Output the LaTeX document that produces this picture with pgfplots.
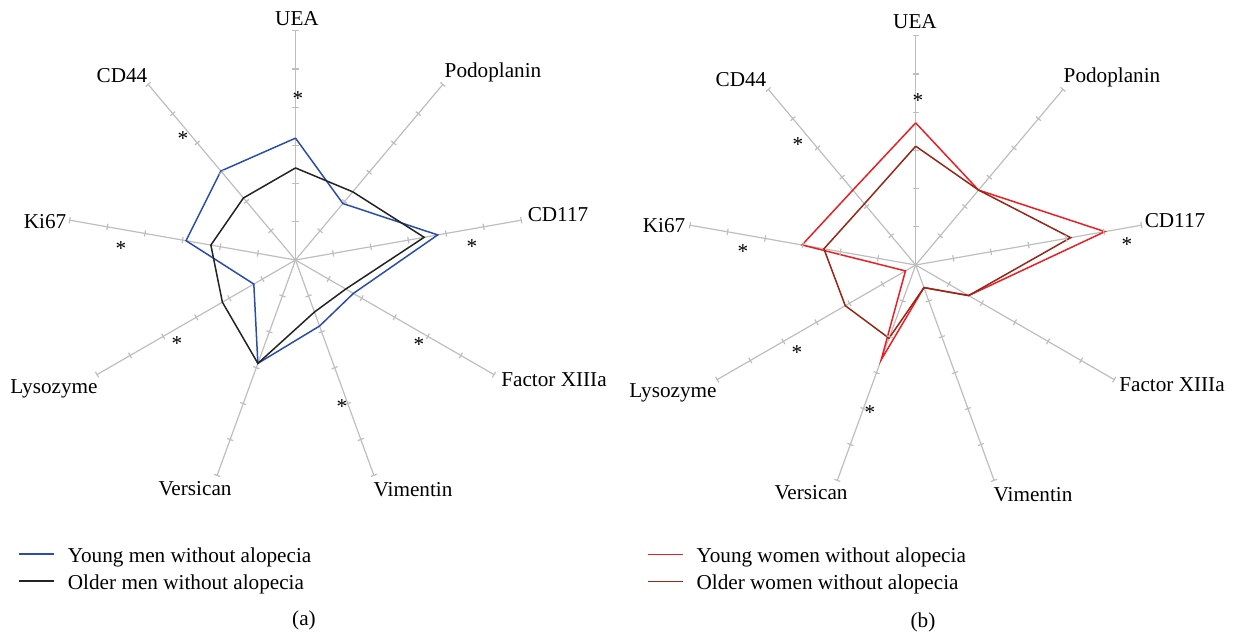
\documentclass[border=0pt]{standalone}
\usepackage{pgfplots}
\pgfplotsset{compat=1.18}
\usepackage{fontspec}
\setmainfont{Liberation Serif}
\definecolor{ablue}{RGB}{42,78,168}
\definecolor{ablack}{RGB}{35,35,35}
\definecolor{bred}{RGB}{236,30,36}
\definecolor{bbrown}{RGB}{150,38,22}
\definecolor{spoke}{RGB}{190,190,190}
\pgfplotsset{
  radar/.style={anchor=center, x=19.1pt, y=19.1pt,
    xmin=-6, xmax=6, ymin=-6, ymax=6, hide axis, clip=false,
    data cs=polar,
    legend cell align=left,
    legend image code/.code={\draw[##1] (0pt,1.6pt) -- (17.5pt,1.6pt);},
  },
  series/.style={line width=0.75pt, line join=miter, no marks},
}
\newcommand\spokes{%
  \pgfplotsinvokeforeach{90,50,10,-30,-70,-110,-150,170,130}{
    \addplot[spoke, line width=0.6pt, no marks, forget plot] coordinates {(##1,0) (##1,6)};
    \addplot[spoke, line width=0.6pt, only marks, mark=|, mark size=1.6pt,
      mark options={rotate=##1, spoke, line width=0.6pt}, forget plot]
      coordinates {(##1,1) (##1,2) (##1,3) (##1,4) (##1,5) (##1,6)};
  }%
}
\begin{document}
\begin{tikzpicture}[x=0.5pt, y=0.5pt,
  every node/.append style={font=\fontsize{10.6}{12.5}\selectfont}]
\useasboundingbox (0,0) rectangle (1233,-635);

% ---------- (a) ----------
\begin{axis}[radar, at={(147.75pt,-130pt)},
  legend style={draw=none, fill=none, inner sep=0pt,
    at={(axis description cs:-0.1053,-0.1254)}, anchor=north west,
    row sep=3.5pt, column sep=6.5pt,
    nodes={inner sep=0pt, text height=7.5pt, text depth=2.5pt}}]
\spokes
% angles: UEA 90, Podoplanin 50, CD117 10, Factor XIIIa -30, Vimentin -70,
% Versican -110, Lysozyme -150, Ki67 170, CD44 130
\addplot[series, ablue] coordinates {
  (90,3.19) (50,1.93) (10,3.78) (-30,1.75) (-70,1.84)
  (-110,2.88) (-150,1.26) (170,2.91) (130,3.04) (90,3.19)};
\addlegendentry{Young men without alopecia}
\addplot[series, ablack] coordinates {
  (90,2.41) (50,2.33) (10,3.42) (-30,1.52) (-70,1.45)
  (-110,2.88) (-150,2.21) (170,2.25) (130,2.12) (90,2.41)};
\addlegendentry{Older men without alopecia}
\end{axis}

% ---------- (b) ----------
\begin{axis}[radar, at={(457.85pt,-132.5pt)},
  legend style={draw=none, fill=none, inner sep=0pt,
    at={(axis description cs:-0.0868,-0.1161)}, anchor=north west,
    row sep=3.5pt, column sep=6.5pt,
    nodes={inner sep=0pt, text height=7.5pt, text depth=2.5pt}}]
\spokes
\addplot[series, bred] coordinates {
  (90,3.72) (50,2.56) (10,5.03) (-30,1.60) (-70,0.63)
  (-110,2.64) (-150,0.31) (170,3.02) (130,2.56) (90,3.72)};
\addlegendentry{Young women without alopecia}
\addplot[series, bbrown] coordinates {
  (90,3.11) (50,2.56) (10,4.12) (-30,1.60) (-70,0.63)
  (-110,2.04) (-150,2.13) (170,2.44) (130,2.09) (90,3.11)};
\addlegendentry{Older women without alopecia}
\end{axis}

% ---------- axis labels ----------
\node at (297,-19) {UEA};
\node at (493,-72) {Podoplanin};
\node at (558,-215) {CD117};
\node at (554,-380) {Factor XIIIa};
\node at (413,-490) {Vimentin};
\node at (195,-489) {Versican};
\node at (54,-389) {Lysozyme};
\node at (45,-222) {Ki67};
\node at (122,-76) {CD44};

\node at (915,-22) {UEA};
\node at (1112,-77) {Podoplanin};
\node at (1175,-221) {CD117};
\node at (1172,-385) {Factor XIIIa};
\node at (1033,-495) {Vimentin};
\node at (811,-493) {Versican};
\node at (673,-393) {Lysozyme};
\node at (664,-226) {Ki67};
\node at (741,-80) {CD44};

% ---------- significance marks ----------
\tikzset{star/.style={yshift=-1.3pt}}
\foreach \x/\y in {298/96, 183/136, 472/244, 121/246, 177/341, 342/404, 419/342,
                   918/98, 798/142, 1127/242, 743/249, 797/350, 870/410}
  \node[star] at (\x,-\y) {*};

% ---------- panel captions ----------
\node at (304,-620) {(a)};
\node at (923,-622) {(b)};
\end{tikzpicture}
\end{document}
